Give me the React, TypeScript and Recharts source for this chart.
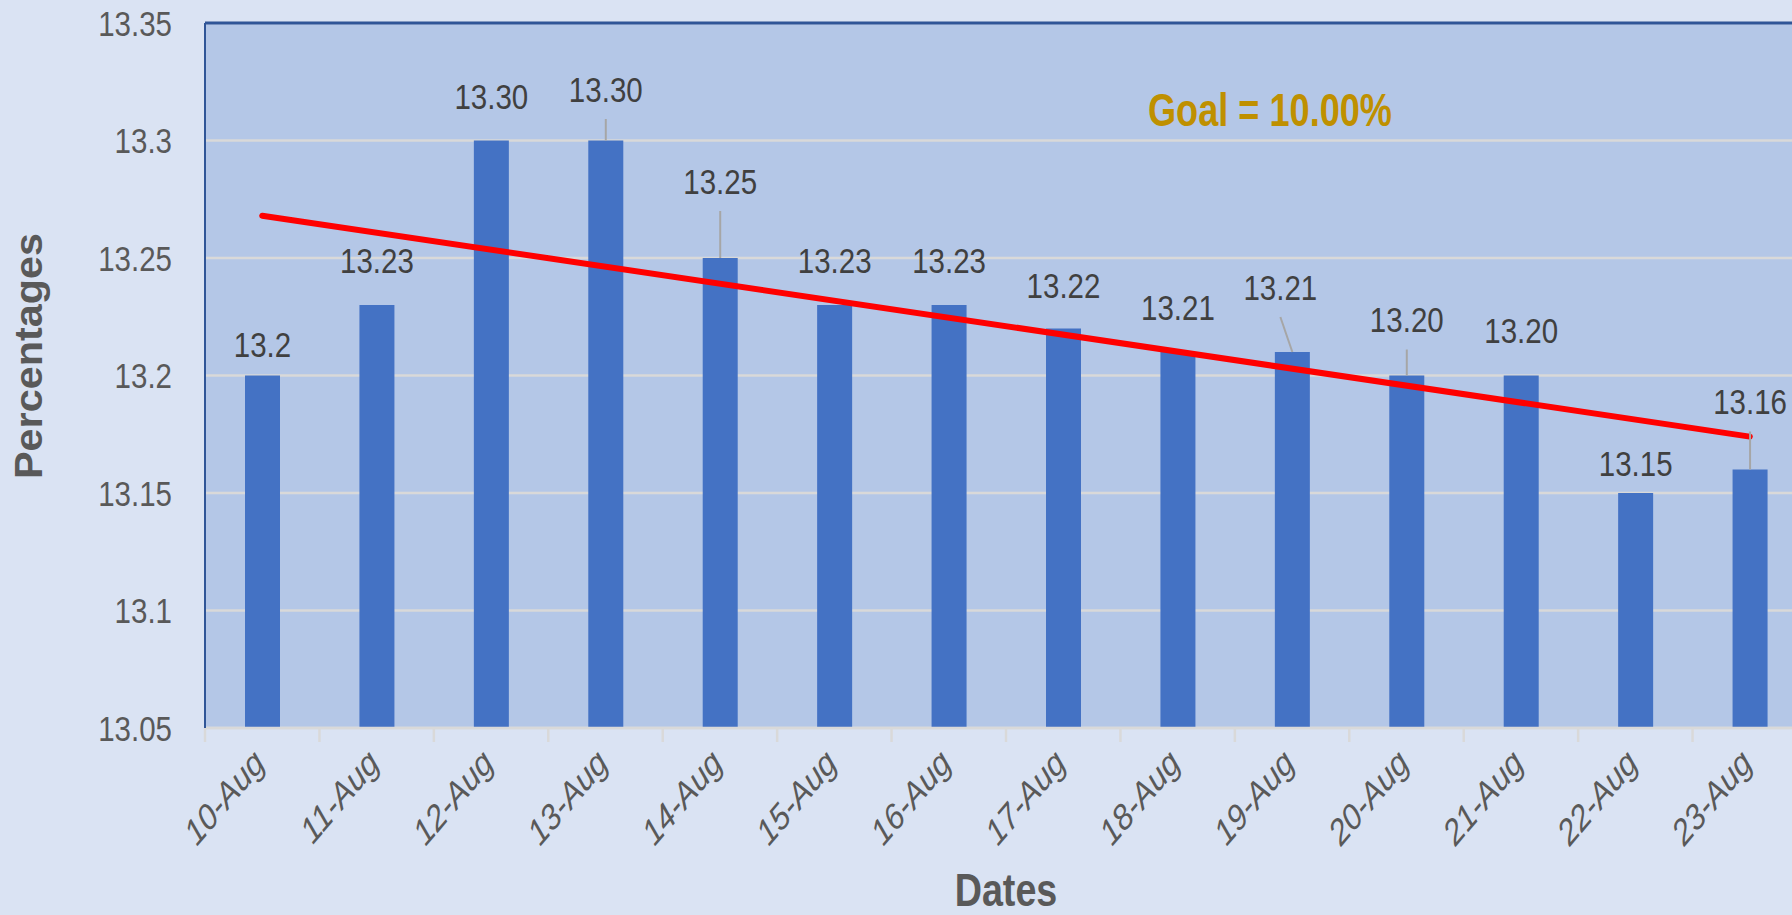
import React from 'react';
import {
  ComposedChart,
  Bar,
  Line,
  XAxis,
  YAxis,
  CartesianGrid,
  LabelList,
  ReferenceLine,
  Customized,
} from 'recharts';

// ---------- data ----------
const categories = [
  '10-Aug', '11-Aug', '12-Aug', '13-Aug', '14-Aug', '15-Aug', '16-Aug',
  '17-Aug', '18-Aug', '19-Aug', '20-Aug', '21-Aug', '22-Aug', '23-Aug',
];
const values = [13.2, 13.23, 13.3, 13.3, 13.25, 13.23, 13.23, 13.22, 13.21, 13.21, 13.2, 13.2, 13.15, 13.16];
const valueLabels = ['13.2', '13.23', '13.30', '13.30', '13.25', '13.23', '13.23', '13.22', '13.21', '13.21', '13.20', '13.20', '13.15', '13.16'];
// linear trend line endpoints
const trendStart = 13.268;
const trendEnd = 13.174;
const yTicks = [13.05, 13.1, 13.15, 13.2, 13.25, 13.3, 13.35];
const yTickLabels = ['13.05', '13.1', '13.15', '13.2', '13.25', '13.3', '13.35'];
const goalText = 'Goal = 10.00%';
const xTitle = 'Dates';
const yTitle = 'Percentages';

// ---------- layout of data labels (pixels above bar top, horizontal shift) ----------
const labelLift = [31, 45, 44, 51.5, 77, 45, 45, 43, 45, 65, 56, 45, 30, 68];
const labelShift = [0, 0, 0, 0, 0, 0, 0, 0, 0, -12, 0, 0, 0, 0];

const data = categories.map((c, i) => ({
  date: c,
  value: values[i],
  label: valueLabels[i],
  trend: i === 0 ? trendStart : i === categories.length - 1 ? trendEnd : null,
}));

const FONT = "'Liberation Sans', Arial, sans-serif";
const GRAY = '#595959';
const NARROW = 0.82;

const NarrowText = (p: {
  x: number;
  y: number;
  anchor?: 'start' | 'middle' | 'end';
  size: number;
  weight?: string;
  italic?: boolean;
  fill: string;
  dy?: string;
  children: any;
}) => (
  <text
    x={0}
    y={0}
    dy={p.dy}
    transform={`translate(${p.x}, ${p.y}) scale(${NARROW}, 1)`}
    textAnchor={p.anchor || 'start'}
    fontSize={p.size}
    fontWeight={p.weight || 'normal'}
    fontStyle={p.italic ? 'italic' : 'normal'}
    fontFamily={FONT}
    fill={p.fill}
  >
    {p.children}
  </text>
);

const XTick = (props: any) => {
  const { x, y, payload } = props;
  const half = payload && typeof payload.offset === 'number' && payload.offset > 0 ? payload.offset : 57.2;
  const ax = x + 4;
  const ay = y + 37;
  return (
    <g>
      <line x1={x - half} x2={x - half} y1={y} y2={y + 14} stroke="#D9D9D9" strokeWidth={2.5} />
      <text
        x={0}
        y={0}
        transform={`translate(${ax}, ${ay}) scale(1, 1.18) rotate(-45)`}
        textAnchor="end"
        fontSize={30.5}
        fontStyle="italic"
        fontFamily={FONT}
        fill={GRAY}
      >
        {payload.value}
      </text>
    </g>
  );
};

const YTick = (props: any) => {
  const { x, y, payload } = props;
  const i = yTicks.findIndex((t) => Math.abs(t - payload.value) < 1e-9);
  return (
    <NarrowText x={x} y={y} dy="0.355em" anchor="end" size={36} fill={GRAY}>
      {i >= 0 ? yTickLabels[i] : String(payload.value)}
    </NarrowText>
  );
};

const renderLabel = (props: any) => {
  const vb = props.viewBox && typeof props.viewBox.x === 'number' ? props.viewBox : props;
  const x = Number(vb.x);
  const y = Number(vb.y);
  const w = Number(vb.width);
  const idx = props.index;
  const cx = x + w / 2;
  const lift = labelLift[idx] ?? 40;
  const lx = cx + (labelShift[idx] ?? 0);
  const ly = y - lift;
  const leader = lift > 50;
  return (
    <g key={`lbl-${idx}`}>
      {leader && (
        <line x1={lx} y1={ly + 30} x2={cx} y2={y} stroke="#A6A6A6" strokeWidth={2} />
      )}
      <NarrowText x={lx} y={ly} dy="0.355em" anchor="middle" size={36} fill="#404040">
        {props.value}
      </NarrowText>
    </g>
  );
};

const GoalText = () => (
  <text
    x={1148}
    y={126}
    fontSize={46}
    fontWeight="bold"
    fontFamily={FONT}
    fill="#BF9000"
    textLength={244}
    lengthAdjust="spacingAndGlyphs"
  >
    {goalText}
  </text>
);

const XTitle = (props: any) => {
  const vb = props.viewBox || { x: 205, width: 1602 };
  return (
    <NarrowText x={vb.x + vb.width / 2} y={906} anchor="middle" size={46} weight="bold" fill={GRAY}>
      {xTitle}
    </NarrowText>
  );
};

const YTitle = () => (
  <text
    x={42}
    y={356}
    transform="rotate(-90, 42, 356)"
    textAnchor="middle"
    fontSize={39}
    fontWeight="bold"
    fontFamily={FONT}
    fill={GRAY}
    textLength={246}
    lengthAdjust="spacingAndGlyphs"
  >
    {yTitle}
  </text>
);

export default function App() {
  return (
    <div
      style={{
        position: 'absolute',
        left: 0,
        top: 0,
        width: 1792,
        height: 915,
        overflow: 'hidden',
        background: '#DAE3F3',
      }}
    >
      <ComposedChart
        width={1807}
        height={915}
        data={data}
        margin={{ top: 23, right: 0, bottom: 0, left: 0 }}
      >
        <CartesianGrid
          vertical={false}
          stroke="#D9D9D9"
          strokeWidth={2.5}
          fill="#B4C7E7"
          fillOpacity={1}
        />
        <XAxis
          dataKey="date"
          height={187}
          interval={0}
          axisLine={{ stroke: '#D9D9D9', strokeWidth: 2.5 }}
          tickLine={false}
          tickSize={0}
          tickMargin={0}
          tick={<XTick />}
          label={<XTitle />}
        />
        <YAxis
          type="number"
          width={205}
          domain={[13.05, 13.35]}
          ticks={yTicks}
          interval={0}
          allowDataOverflow
          axisLine={{ stroke: '#2F5597', strokeWidth: 2 }}
          tickLine={false}
          tickSize={0}
          tickMargin={33}
          tick={<YTick />}
          label={<YTitle />}
        />
        <Bar dataKey="value" fill="#4472C4" barSize={35} isAnimationActive={false}>
          <LabelList dataKey="label" content={renderLabel} />
        </Bar>
        <Line
          dataKey="trend"
          stroke="#FF0000"
          strokeWidth={6}
          strokeLinecap="round"
          dot={false}
          activeDot={false}
          connectNulls
          isAnimationActive={false}
        />
        <ReferenceLine y={13.35} stroke="#2F5597" strokeWidth={3} />
        <Customized component={GoalText} />
      </ComposedChart>
    </div>
  );
}
